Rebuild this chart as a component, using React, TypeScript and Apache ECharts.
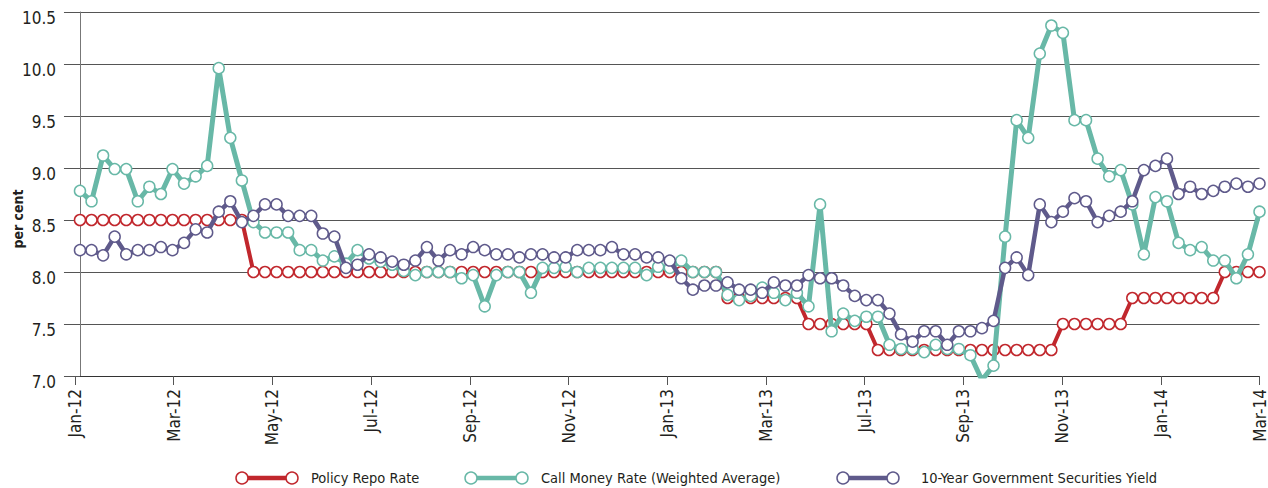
import React, { useEffect, useRef } from "react";
import * as echarts from "echarts";

const tickLabels = ["Jan-12", "Mar-12", "May-12", "Jul-12", "Sep-12", "Nov-12", "Jan-13", "Mar-13", "Jul-13", "Sep-13", "Nov-13", "Jan-14", "Mar-14"];

const seriesNames = ["Policy Repo Rate", "Call Money Rate (Weighted Average)", "10-Year Government Securities Yield"];
const seriesColors = ["#C1272D", "#68B8A7", "#5F5A8B"];

const repoRate = [
  8.5, 8.5, 8.5, 8.5, 8.5, 8.5, 8.5, 8.5, 8.5, 8.5,
  8.5, 8.5, 8.5, 8.5, 8.5, 8.0, 8.0, 8.0, 8.0, 8.0,
  8.0, 8.0, 8.0, 8.0, 8.0, 8.0, 8.0, 8.0, 8.0, 8.0,
  8.0, 8.0, 8.0, 8.0, 8.0, 8.0, 8.0, 8.0, 8.0, 8.0,
  8.0, 8.0, 8.0, 8.0, 8.0, 8.0, 8.0, 8.0, 8.0, 8.0,
  8.0, 8.0, 8.0, 8.0, 8.0, 8.0, 7.75, 7.75, 7.75, 7.75,
  7.75, 7.75, 7.75, 7.5, 7.5, 7.5, 7.5, 7.5, 7.5, 7.25,
  7.25, 7.25, 7.25, 7.25, 7.25, 7.25, 7.25, 7.25, 7.25, 7.25,
  7.25, 7.25, 7.25, 7.25, 7.25, 7.5, 7.5, 7.5, 7.5, 7.5,
  7.5, 7.75, 7.75, 7.75, 7.75, 7.75, 7.75, 7.75, 7.75, 8.0,
  8.0, 8.0, 8.0,
];

const callMoneyRate = [
  8.78, 8.68, 9.12, 8.99, 8.99, 8.68, 8.82, 8.75, 8.99, 8.85,
  8.92, 9.02, 9.96, 9.29, 8.88, 8.48, 8.38, 8.38, 8.38, 8.21,
  8.21, 8.11, 8.15, 8.08, 8.21, 8.13, 8.10, 8.07, 8.01, 7.97,
  8.00, 8.00, 8.00, 7.94, 7.97, 7.67, 7.97, 8.00, 8.00, 7.80,
  8.04, 8.04, 8.05, 8.00, 8.04, 8.04, 8.04, 8.04, 8.04, 7.97,
  8.05, 8.04, 8.11, 8.00, 8.00, 8.00, 7.78, 7.73, 7.77, 7.85,
  7.80, 7.73, 7.80, 7.67, 8.65, 7.43, 7.60, 7.53, 7.57, 7.57,
  7.30, 7.26, 7.26, 7.23, 7.30, 7.26, 7.26, 7.20, 6.96, 7.10,
  8.34, 9.46, 9.29, 10.10, 10.37, 10.30, 9.46, 9.46, 9.09, 8.92,
  8.98, 8.65, 8.17, 8.72, 8.68, 8.28, 8.21, 8.24, 8.11, 8.11,
  7.94, 8.17, 8.58,
];

const gsecYield = [
  8.21, 8.21, 8.16, 8.34, 8.17, 8.21, 8.21, 8.24, 8.21, 8.28,
  8.41, 8.38, 8.58, 8.68, 8.48, 8.54, 8.65, 8.65, 8.54, 8.54,
  8.54, 8.37, 8.34, 8.04, 8.07, 8.17, 8.14, 8.10, 8.07, 8.11,
  8.24, 8.11, 8.21, 8.17, 8.24, 8.21, 8.17, 8.17, 8.14, 8.17,
  8.17, 8.14, 8.14, 8.21, 8.21, 8.21, 8.24, 8.17, 8.17, 8.14,
  8.14, 8.11, 7.94, 7.83, 7.87, 7.87, 7.90, 7.83, 7.83, 7.80,
  7.90, 7.87, 7.87, 7.97, 7.94, 7.94, 7.87, 7.77, 7.73, 7.73,
  7.60, 7.40, 7.33, 7.43, 7.43, 7.30, 7.43, 7.43, 7.46, 7.53,
  8.04, 8.14, 7.97, 8.65, 8.48, 8.58, 8.71, 8.68, 8.48, 8.54,
  8.58, 8.68, 8.98, 9.02, 9.09, 8.75, 8.82, 8.75, 8.78, 8.82,
  8.85, 8.82, 8.85,
];

const seriesValues = [repoRate, callMoneyRate, gsecYield];
const lineWidths = [4, 5, 4.5];

const FONT = "'Liberation Sans Narrow', 'DejaVu Sans Condensed', 'Roboto Condensed', sans-serif";
const TEXT = "#231F20";

export default function App() {
  const ref = useRef<HTMLDivElement>(null);

  useEffect(() => {
    if (!ref.current) return;
    const chart = echarts.init(ref.current, undefined, { renderer: "svg" });
    const n = repoRate.length;

    const series = seriesValues.map((vals, k) => ({
      type: "line",
      name: seriesNames[k],
      xAxisIndex: 0,
      yAxisIndex: 0,
      data: vals.map((v, i) => [i, v]),
      symbol: "circle",
      symbolSize: 11,
      showSymbol: true,
      lineStyle: { color: seriesColors[k], width: lineWidths[k] },
      itemStyle: { color: "#ffffff", borderColor: seriesColors[k], borderWidth: 1.5 },
      emphasis: { disabled: true },
      z: 2 + k,
    }));

    const legendX = [
      [242, 292, 311],
      [471, 522, 541],
      [843, 893, 921],
    ];
    const legendY = 478;
    const legendGraphics: any[] = [];
    legendX.forEach(([a, b, t], k) => {
      legendGraphics.push({
        type: "line",
        shape: { x1: a, y1: legendY, x2: b, y2: legendY },
        style: { stroke: seriesColors[k], lineWidth: 4.5 },
      });
      [a, b].forEach((cx) =>
        legendGraphics.push({
          type: "circle",
          shape: { cx, cy: legendY, r: 6 },
          style: { fill: "#ffffff", stroke: seriesColors[k], lineWidth: 1.5 },
        })
      );
      legendGraphics.push({
        type: "text",
        x: t,
        y: legendY,
        style: {
          text: seriesNames[k],
          fill: TEXT,
          font: `14.5px ${FONT}`,
          verticalAlign: "middle",
          align: "left",
        },
      });
    });

    chart.setOption({
      animation: false,
      backgroundColor: "#ffffff",
      grid: { left: 75, right: 4, top: 12, bottom: 112, containLabel: false },
      xAxis: [
        {
          type: "value",
          min: -0.43,
          max: n - 1,
          show: false,
        },
        {
          type: "value",
          min: 0,
          max: tickLabels.length - 1,
          interval: 1,
          position: "bottom",
          axisLine: { show: true, lineStyle: { color: "#333", width: 1 } },
          axisTick: { show: true, length: 9, lineStyle: { color: "#555", width: 1 } },
          splitLine: { show: false },
          axisLabel: {
            rotate: 90,
            margin: 13,
            fontSize: 17,
            fontFamily: FONT,
            color: TEXT,
            formatter: (v: number) => tickLabels[Math.round(v)] ?? "",
          },
        },
      ],
      yAxis: {
        type: "value",
        min: 7,
        max: 10.5,
        interval: 0.5,
        axisLine: { show: true, lineStyle: { color: "#777", width: 1 } },
        axisTick: { show: true, length: 16, lineStyle: { color: "#555", width: 1 } },
        splitLine: { show: true, lineStyle: { color: "#555", width: 1 } },
        axisLabel: {
          margin: 19,
          fontSize: 17,
          fontFamily: FONT,
          color: TEXT,
          verticalAlign: "top",
          lineHeight: 11,
          formatter: (v: number) => v.toFixed(1),
        },
      },
      series,
      graphic: [
        {
          type: "text",
          x: 18,
          y: 219,
          rotation: Math.PI / 2,
          style: {
            text: "per cent",
            fill: TEXT,
            font: `bold 14px ${FONT}`,
            align: "center",
            verticalAlign: "middle",
          },
        },
        ...legendGraphics,
      ],
    });

    return () => chart.dispose();
  }, []);

  return (
    <div
      ref={ref}
      style={{ position: "absolute", left: 0, top: 0, width: 1268, height: 488, background: "#fff" }}
    />
  );
}
